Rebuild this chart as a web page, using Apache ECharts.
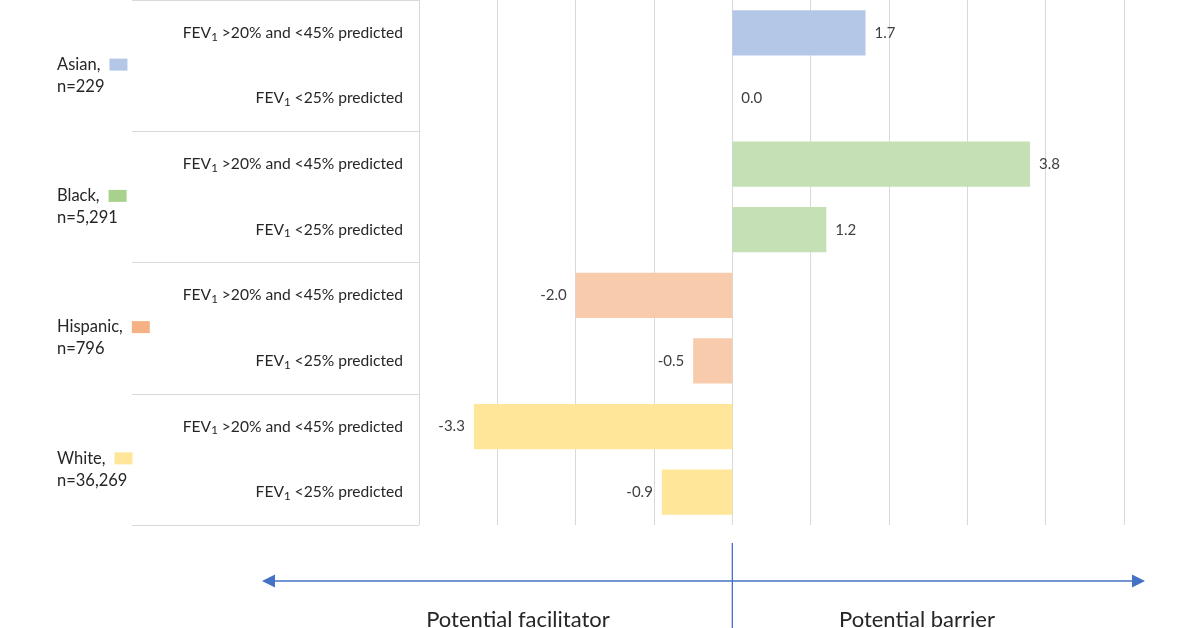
<!DOCTYPE html>
<html><head><meta charset="utf-8">
<script src="https://cdn.jsdelivr.net/npm/echarts@6/dist/echarts.min.js"></script>
<style>html,body{margin:0;padding:0;background:#fff}#c{width:1200px;height:628px}</style>
</head><body><div id="c"></div>
<script>
const groups = ['Asian,', 'Black,', 'Hispanic,', 'White,'];
const groupN = ['n=229', 'n=5,291', 'n=796', 'n=36,269'];
const categories = [
  'FEV1 >20% and <45% predicted', 'FEV1 <25% predicted',
  'FEV1 >20% and <45% predicted', 'FEV1 <25% predicted',
  'FEV1 >20% and <45% predicted', 'FEV1 <25% predicted',
  'FEV1 >20% and <45% predicted', 'FEV1 <25% predicted'
];
const values = [1.7, 0.0, 3.8, 1.2, -2.0, -0.5, -3.3, -0.9];
const barColors = ['#b4c7e7', '#c5e0b4', '#f8cbad', '#ffe699'];
const keyColors = ['#b4c7e7', '#a9d18e', '#f4b183', '#ffe699'];
const directionLabels = ['Potential facilitator', 'Potential barrier'];
const xTicks = { min: -4, max: 5, interval: 1 };

const FONT = 'Lato';
const TXT = '#262626';
const chart = echarts.init(document.getElementById('c'), null, { renderer: 'canvas' });

const groupRich = {
  t: { fontFamily: FONT, fontSize: 16.5, color: TXT, lineHeight: 22, align: 'left' },
  g: { width: 9, align: 'left' }
};
keyColors.forEach((c, i) => {
  groupRich['k' + i] = { backgroundColor: c, width: 18, height: 12, align: 'left' };
});

const catRich = {
  m: { fontFamily: FONT, fontSize: 15.6, color: TXT, lineHeight: 20 },
  s: { fontFamily: FONT, fontSize: 11.5, color: TXT, lineHeight: 12, padding: [8, 0, 0, 0] }
};

const option = {
  animation: false,
  grid: { left: 419, right: 76, top: 0, bottom: 103, containLabel: false },
  xAxis: {
    type: 'value', min: xTicks.min, max: xTicks.max, interval: xTicks.interval,
    axisLabel: { show: false }, axisLine: { show: false }, axisTick: { show: false },
    splitLine: { show: true, lineStyle: { color: '#d9d9d9', width: 1 } }
  },
  yAxis: [
    {
      type: 'category', data: categories, inverse: true,
      axisLine: { show: false }, axisTick: { show: false },
      axisLabel: {
        margin: 16,
        formatter: v => {
          const rest = v.replace(/^FEV1/, '');
          return '{m|FEV}{s|1}{m|' + rest + '}';
        },
        rich: catRich
      }
    },
    {
      type: 'category', data: groups, inverse: true, position: 'left', offset: 287,
      axisLine: { show: false },
      axisTick: { show: true, inside: true, length: 287, lineStyle: { color: '#d9d9d9', width: 1 } },
      axisLabel: {
        margin: 75, align: 'left',
        formatter: (v, i) => '{t|' + v + '}{g|}{k' + i + '|}\n{t|' + groupN[i] + '}',
        rich: groupRich,
        padding: [20, 0, 0, 0]
      }
    }
  ],
  series: [{
    type: 'bar', yAxisIndex: 0, barCategoryGap: '31%',
    data: values.map((v, i) => ({
      value: v,
      itemStyle: { color: barColors[Math.floor(i / 2)] },
      label: { position: v < 0 ? 'left' : 'right' }
    })),
    label: {
      show: true, distance: 9, fontFamily: FONT, fontSize: 15, color: '#404040',
      formatter: p => p.value.toFixed(1)
    }
  }]
};
chart.setOption(option);

const x0 = chart.convertToPixel({ xAxisIndex: 0 }, 0);
const arrowY = 581, ax1 = 262, ax2 = 1145, blue = '#4472c4';
chart.setOption({
  graphic: [
    { type: 'line', shape: { x1: ax1 + 10, y1: arrowY, x2: ax2 - 10, y2: arrowY }, style: { stroke: blue, lineWidth: 1.6 } },
    { type: 'polygon', shape: { points: [[ax1, arrowY], [ax1 + 13, arrowY - 6.5], [ax1 + 13, arrowY + 6.5]] }, style: { fill: blue } },
    { type: 'polygon', shape: { points: [[ax2, arrowY], [ax2 - 13, arrowY - 6.5], [ax2 - 13, arrowY + 6.5]] }, style: { fill: blue } },
    { type: 'line', shape: { x1: x0, y1: 543, x2: x0, y2: 628 }, style: { stroke: blue, lineWidth: 1.3 } },
    { type: 'text', x: 518, y: 620, style: { text: directionLabels[0], font: '22px ' + FONT, fill: TXT, textAlign: 'center', textVerticalAlign: 'middle' } },
    { type: 'text', x: 917, y: 620, style: { text: directionLabels[1], font: '22px ' + FONT, fill: TXT, textAlign: 'center', textVerticalAlign: 'middle' } }
  ]
});
</script></body></html>
